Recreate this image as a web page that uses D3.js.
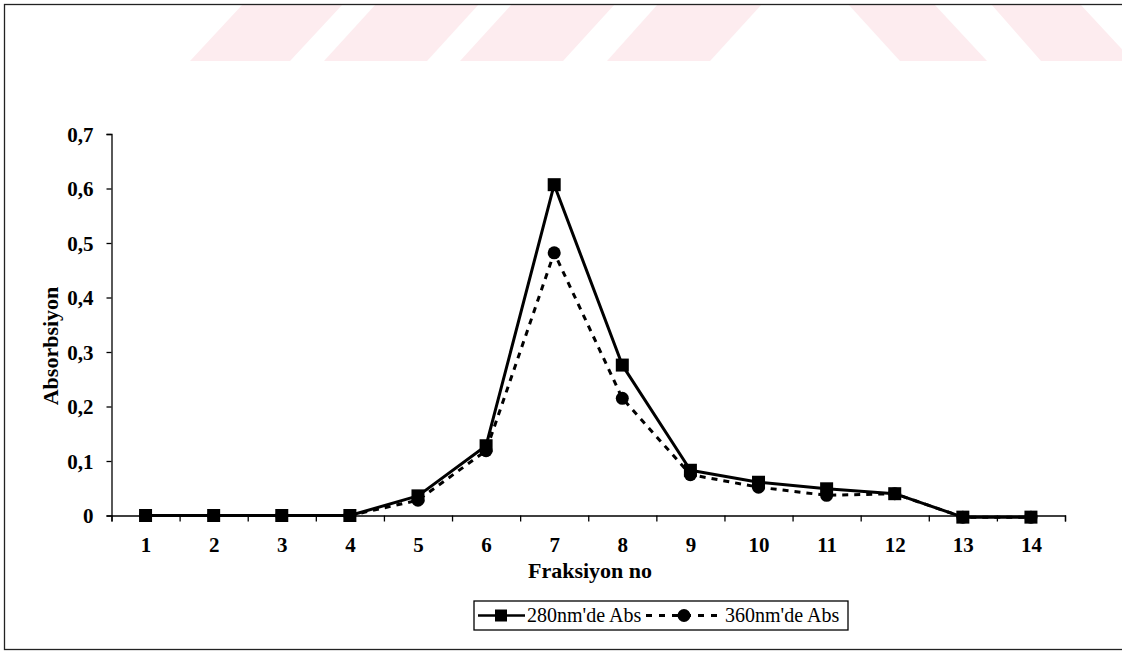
<!DOCTYPE html>
<html>
<head>
<meta charset="utf-8">
<script src="https://cdn.jsdelivr.net/npm/d3@7"></script>
<style>
  body { margin: 0; background: #fff; }
  svg { display: block; }
</style>
</head>
<body>
<div id="chart"></div>
<script>
// Fraction numbers and absorbance readings
const fractions = [1, 2, 3, 4, 5, 6, 7, 8, 9, 10, 11, 12, 13, 14];
const abs280 = [0, 0, 0, 0, 0.036, 0.128, 0.607, 0.276, 0.083, 0.061, 0.049, 0.04, -0.003, -0.003];
const abs360 = [0, 0, 0, 0, 0.028, 0.119, 0.482, 0.215, 0.075, 0.052, 0.037, 0.04, -0.003, -0.003];
const yTicks = [0, 0.1, 0.2, 0.3, 0.4, 0.5, 0.6, 0.7];
const seriesNames = ["280nm'de Abs", "360nm'de Abs"];

const FONT = '"Liberation Serif", "Times New Roman", "DejaVu Serif", serif';
const W = 1122, H = 653;
const svg = d3.select('#chart').append('svg')
    .attr('width', W)
    .attr('height', H)
    .style('font-family', FONT);

// Faint watermark stripes at the top of the scan
const stripes = [
    [[243, 4], [343, 4], [290, 61], [190, 61]],
    [[376, 4], [479, 4], [427, 61], [324, 61]],
    [[512, 4], [615, 4], [563, 61], [460, 61]],
    [[658, 4], [762, 4], [710, 61], [607, 61]],
    [[848, 4], [934, 4], [987, 61], [900, 61]],
    [[991, 4], [1080, 4], [1133, 61], [1041, 61]]
];
svg.append('g')
    .selectAll('polygon')
    .data(stripes)
    .enter()
    .append('polygon')
    .attr('points', d => d.map(p => p.join(',')).join(' '))
    .attr('fill', '#fdecef');

// Outer frame
svg.append('rect')
    .attr('x', 4.5)
    .attr('y', 4.5)
    .attr('width', W + 10)
    .attr('height', 645)
    .attr('fill', 'none')
    .attr('stroke', '#222')
    .attr('stroke-width', 1.3);

// Scales
const x = d3.scaleLinear()
    .domain([0.5, 14.5])
    .range([111.5, 1065]);

const y = d3.scaleLinear()
    .domain([0, 0.7])
    .range([515.5, 134]);

// Y axis
const yAxis = svg.append('g')
    .attr('transform', `translate(${x(0.5)},0)`)
    .call(d3.axisLeft(y)
        .tickValues(yTicks)
        .tickSize(5)
        .tickPadding(13)
        .tickFormat(d => d === 0 ? '0' : d3.format('.1f')(d).replace('.', ',')));
yAxis.attr('font-family', null);
yAxis.selectAll('text')
    .style('font-family', FONT)
    .style('font-size', '21px')
    .style('font-weight', 'bold')
    .attr('dy', '0.34em');

// X axis: boundary ticks
svg.append('g')
    .attr('transform', `translate(0,${y(0)})`)
    .call(d3.axisBottom(x)
        .tickValues(d3.range(0.5, 15, 1))
        .tickSize(6)
        .tickFormat(''));

// X axis: category labels
const xLabels = svg.append('g')
    .attr('transform', `translate(0,${y(0)})`)
    .call(d3.axisBottom(x)
        .tickValues(fractions)
        .tickSize(0)
        .tickPadding(22)
        .tickFormat(d3.format('d')));
xLabels.select('.domain').remove();
xLabels.attr('font-family', null);
xLabels.selectAll('text')
    .style('font-family', FONT)
    .style('font-size', '21px')
    .style('font-weight', 'bold');

svg.selectAll('.domain, .tick line')
    .attr('stroke', '#000')
    .attr('stroke-width', 1.3);

// Axis titles
svg.append('text')
    .attr('transform', 'translate(58,346) rotate(-90)')
    .attr('text-anchor', 'middle')
    .style('font-family', FONT)
    .style('font-size', '22px')
    .style('font-weight', 'bold')
    .text('Absorbsiyon');

svg.append('text')
    .attr('x', 590)
    .attr('y', 578)
    .attr('text-anchor', 'middle')
    .style('font-family', FONT)
    .style('font-size', '22px')
    .style('font-weight', 'bold')
    .text('Fraksiyon no');

// Series
const line = d3.line()
    .x((d, i) => x(fractions[i]))
    .y(d => y(d));

// 360 nm first (dashed, circles), 280 nm on top
svg.append('path')
    .datum(abs360)
    .attr('d', line)
    .attr('fill', 'none')
    .attr('stroke', '#000')
    .attr('stroke-width', 3)
    .attr('stroke-dasharray', '6,6');

svg.append('g')
    .selectAll('circle')
    .data(abs360)
    .enter()
    .append('circle')
    .attr('cx', (d, i) => x(fractions[i]))
    .attr('cy', d => y(d))
    .attr('r', 6.5)
    .attr('fill', '#000');

svg.append('path')
    .datum(abs280)
    .attr('d', line)
    .attr('fill', 'none')
    .attr('stroke', '#000')
    .attr('stroke-width', 3)
    .attr('stroke-linejoin', 'round');

svg.append('g')
    .selectAll('rect')
    .data(abs280)
    .enter()
    .append('rect')
    .attr('x', (d, i) => x(fractions[i]) - 6.5)
    .attr('y', d => y(d) - 6.5)
    .attr('width', 13)
    .attr('height', 13)
    .attr('fill', '#000');

// Legend
const legend = svg.append('g')
    .attr('transform', 'translate(474,601)');

legend.append('rect')
    .attr('width', 374)
    .attr('height', 29)
    .attr('fill', '#fff')
    .attr('stroke', '#000')
    .attr('stroke-width', 1.3);

legend.append('line')
    .attr('x1', 4).attr('x2', 51)
    .attr('y1', 14.5).attr('y2', 14.5)
    .attr('stroke', '#000')
    .attr('stroke-width', 2.5);
legend.append('rect')
    .attr('x', 21).attr('y', 8.5)
    .attr('width', 12).attr('height', 12)
    .attr('fill', '#000');
legend.append('text')
    .attr('x', 53)
    .attr('y', 21)
    .style('font-family', FONT)
    .style('font-size', '20px')
    .text(seriesNames[0]);

legend.append('line')
    .attr('x1', 172).attr('x2', 250)
    .attr('y1', 14.5).attr('y2', 14.5)
    .attr('stroke', '#000')
    .attr('stroke-width', 3)
    .attr('stroke-dasharray', '6,7');
legend.append('circle')
    .attr('cx', 210).attr('cy', 14.5)
    .attr('r', 6.5)
    .attr('fill', '#000');
legend.append('text')
    .attr('x', 251)
    .attr('y', 21)
    .style('font-family', FONT)
    .style('font-size', '20px')
    .text(seriesNames[1]);
</script>
</body>
</html>
